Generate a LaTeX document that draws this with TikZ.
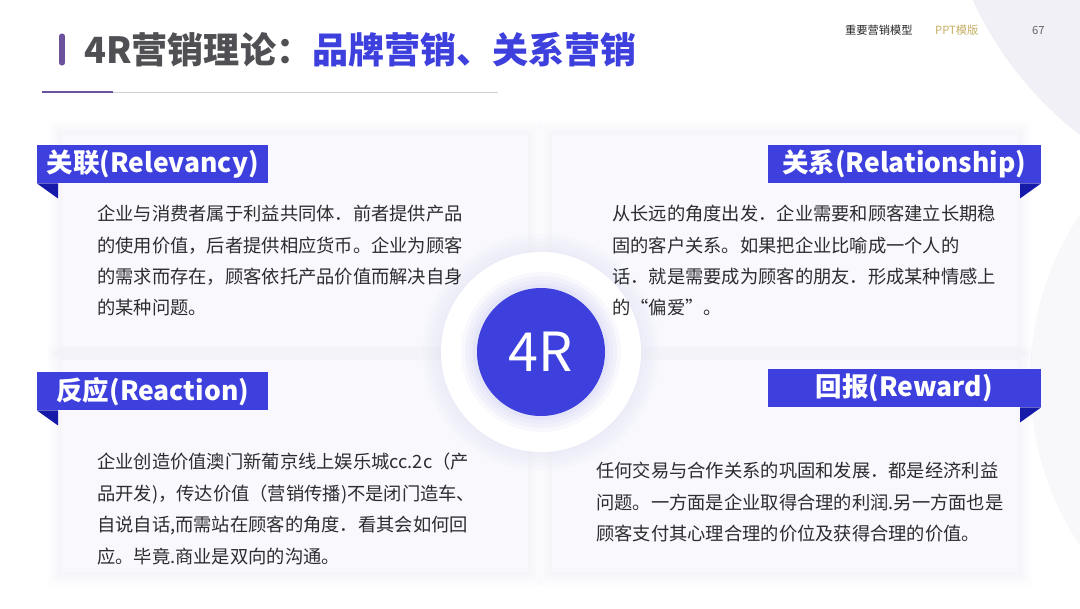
\documentclass[tikz,border=0pt]{standalone}
\usepackage{fontspec}
\setmainfont{Noto Sans CJK SC}
\usetikzlibrary{positioning}

\definecolor{brandblue}{RGB}{62,64,222}
\definecolor{folddark}{RGB}{22,26,168}
\definecolor{titlegray}{RGB}{80,80,84}
\definecolor{barpurple}{RGB}{108,82,156}
\definecolor{bodygray}{RGB}{45,45,48}
\definecolor{cardfill}{RGB}{248,248,253}
\definecolor{glowlav}{RGB}{205,205,242}
\definecolor{bgtint}{RGB}{240,240,246}
\definecolor{gold}{RGB}{198,174,98}

\begin{document}
\begin{tikzpicture}[x=0.03cm, y=-0.03cm, line join=bevel]

  \tikzset{
    banner/.style   = {fill=brandblue, text=white, inner sep=0pt,
                       minimum width=6.93cm, minimum height=1.14cm,
                       font=\fontsize{22.6}{24}\selectfont\bfseries},
    bodytext/.style = {anchor=north west, inner sep=0pt, align=left, text=bodygray,
                       font=\fontsize{15.6}{26.8}\selectfont},
    header/.style   = {anchor=base west, inner sep=0pt, font=\fontsize{9.6}{10}\selectfont}
  }

  % page and background tint
  \useasboundingbox (0,0) rectangle (1080,608);
  \fill[white] (0,0) rectangle (1080,608);
  \begin{scope}
    \clip (0,0) rectangle (1080,608);
    \fill[bgtint] (1300,-150) circle (360);
    \fill[bgtint, opacity=.45] (1330,380) circle (300);
  \end{scope}

  % title
  \draw[barpurple, line width=4.3pt, line cap=round] (62,36) -- (62,63);
  \node[anchor=base west, inner sep=0pt, font=\fontsize{30.8}{32}\selectfont\bfseries]
    (title) at (84,63) {\textcolor{titlegray}{4R营销理论：}\textcolor{brandblue}{品牌营销、关系营销}};
  \draw[black!18, line width=0.6pt] (42,92) -- (498,92);
  \draw[barpurple, line width=2.4pt] (42,92) -- (113,92);

  \node[header, text=black!85] (model) at (845,34) {重要营销模型};
  \node[header, text=gold] (ppt) at (935,34) {PPT模版};
  \node[header, text=black!60] (page) at (1032,34) {67};

  % cards with a soft lavender glow
  \foreach \cx/\cy in {62/135, 552/135, 62/360, 552/360}{
    \foreach \g in {14,11,...,2}
      \fill[glowlav, opacity=.035] (\cx-\g,\cy-\g) rectangle (\cx+466+\g,\cy+212+\g);
    \fill[cardfill] (\cx,\cy) rectangle (\cx+466,\cy+212);
  }

  % centre disc
  \foreach \g in {18,14,...,2}
    \fill[glowlav, opacity=.05] (541,352) circle (100+\g);
  \node[circle, fill=white, minimum size=6cm, inner sep=0pt] (halo) at (541,352) {};
  \foreach \g in {16,12,...,2}
    \fill[brandblue!60, opacity=.06] (541,352) circle (64+\g);
  \node[circle, fill=brandblue, minimum size=3.84cm, inner sep=0pt, text=white,
        font=\fontsize{46}{46}\selectfont] (core) at (halo) {4R};

  % banners
  \node[banner, anchor=north west] (relevancy) at (37,145) {关联(Relevancy)};
  \fill[folddark] (relevancy.south west) -- ++(21,0) -- ++(0,15) -- cycle;
  \node[banner, anchor=north east, minimum width=8.19cm] (relationship) at (1041,145) {关系(Relationship)};
  \fill[folddark] (relationship.south east) -- ++(-21,0) -- ++(0,15) -- cycle;
  \node[banner, anchor=north west] (reaction) at (37,372) {反应(Reaction)};
  \fill[folddark] (reaction.south west) -- ++(21,0) -- ++(0,15) -- cycle;
  \node[banner, anchor=north east, minimum width=8.19cm] (reward) at (1041,369) {回报(Reward)};
  \fill[folddark] (reward.south east) -- ++(-21,0) -- ++(0,15) -- cycle;

  % texts
  \node[bodytext] (relevancytext) at (97,205)
    {企业与消费者属于利益共同体．前者提供产品\\
     的使用价值，后者提供相应货币。企业为顾客\\
     的需求而存在，顾客依托产品价值而解决自身\\
     的某种问题。};
  \node[bodytext] (relationshiptext) at (612,205)
    {从长远的角度出发．企业需要和顾客建立长期稳\\
     固的客户关系。如果把企业比喻成一个人的\\
     话．就是需要成为顾客的朋友．形成某种情感上\\
     的“偏爱"。};
  \node[bodytext] (reactiontext) at (97,453)
    {企业创造价值澳门新葡京线上娱乐城cc.2c（产\\
     品开发)，传达价值（营销传播)不是闭门造车、\\
     自说自话,而需站在顾客的角度．看其会如何回\\
     应。毕竟.商业是双向的沟通。};
  \node[bodytext] (rewardtext) at (596,462)
    {任何交易与合作关系的巩固和发展．都是经济利益\\
     问题。一方面是企业取得合理的利润.另一方面也是\\
     顾客支付其心理合理的价位及获得合理的价值。};

\end{tikzpicture}
\end{document}
